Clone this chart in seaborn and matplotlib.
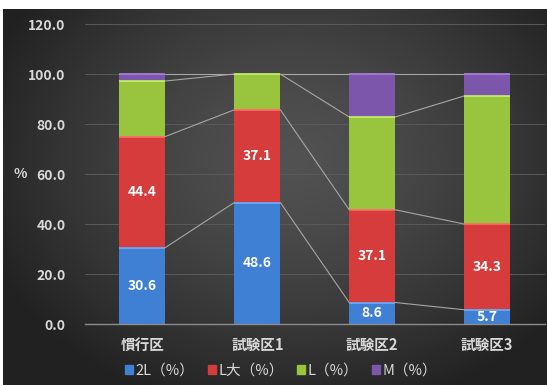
import numpy as np
import pandas as pd
import matplotlib
matplotlib.use("Agg")
import matplotlib.pyplot as plt
import matplotlib.colors as mcolors
import seaborn as sns

# Size shares of each plot (%)
plots = ["慣行区", "試験区1", "試験区2", "試験区3"]
series = ["2L（%）", "L大（%）", "L（%）", "M（%）"]
v_2L = [30.6, 48.6, 8.6, 5.7]
v_Ldai = [44.4, 37.1, 37.1, 34.3]
v_L = [22.2, 14.3, 37.1, 51.2]
v_M = [2.8, 0.0, 17.2, 8.8]
yticks = [0, 20, 40, 60, 80, 100, 120]

colors = ["#3f80d4", "#d63c3c", "#98c43e", "#7b56aa"]
label_series = [0, 1]  # segments that carry value labels

sns.set_theme(style="dark")
plt.rcParams["font.family"] = ["Noto Sans CJK JP", "DejaVu Sans"]

values = np.array([v_2L, v_Ldai, v_L, v_M])
cum = np.cumsum(values, axis=0)

fig = plt.figure(figsize=(5.47, 3.85), dpi=100, facecolor="white")

# radial dark background
bg = fig.add_axes([3 / 547, 0, 544 / 547, 376 / 385])
bg.set_axis_off()
h, w = 376, 544
yy, xx = np.mgrid[0:h, 0:w]
cx, cy = 290, 150
d = np.sqrt(((xx - cx) / 330.0) ** 2 + ((yy - cy) / 260.0) ** 2)
d = np.clip(d, 0, 1)
lev = 0.32 - 0.19 * d ** 1.4
img = np.dstack([lev, lev, lev])
bg.imshow(img, aspect="auto", extent=[0, 1, 0, 1], interpolation="bilinear")
bg.set_xlim(0, 1)
bg.set_ylim(0, 1)

ax = fig.add_axes([85 / 547, 61 / 385, 459.5 / 547, 300 / 385])
ax.set_facecolor("none")

# stacked bars: draw cumulative totals from the top layer down
for k in range(len(series) - 1, -1, -1):
    df = pd.DataFrame({"区": plots, "val": cum[k]})
    sns.barplot(data=df, x="区", y="val", color=colors[k], width=0.4,
                saturation=1, ax=ax, zorder=3, linewidth=0)

# lighter top edge on each segment
bw = 0.4
for k in range(len(series)):
    light = mcolors.to_rgb(colors[k])
    light = tuple(min(1, c + 0.18) for c in light)
    for i in range(len(plots)):
        if values[k, i] > 0:
            ax.plot([i - bw / 2, i + bw / 2], [cum[k, i], cum[k, i]],
                    color=light, lw=1.2, zorder=4, solid_capstyle="butt")

# series lines between neighbouring bars
for k in range(len(series)):
    for i in range(len(plots) - 1):
        ax.plot([i + bw / 2, i + 1 - bw / 2], [cum[k, i], cum[k, i + 1]],
                color="#a6a6a6", lw=0.8, zorder=2)

# value labels
for k in label_series:
    for i in range(len(plots)):
        ymid = cum[k, i] - values[k, i] / 2
        ax.text(i, ymid, f"{values[k, i]:.1f}", ha="center", va="center",
                color="white", fontsize=10, fontweight="bold", zorder=5)

ax.set_ylim(0, 120)
ax.set_xlim(-0.5, len(plots) - 0.5)
ax.set_yticks(yticks)
ax.set_yticklabels([f"{t:.1f}" for t in yticks], color="#d9d9d9",
                   fontsize=10, fontweight="bold")
ax.set_xticks(range(len(plots)))
ax.set_xticklabels(plots, color="#d9d9d9", fontsize=10.5, fontweight="bold")
ax.tick_params(axis="y", length=0, pad=14)
ax.tick_params(axis="x", length=0, pad=9)
ax.set_xlabel("")
ax.set_ylabel("")
ax.grid(axis="y", color="#5a5a5a", lw=0.7, zorder=0)
ax.grid(axis="x", visible=False)
for s in ["top", "right", "left"]:
    ax.spines[s].set_visible(False)
ax.spines["bottom"].set_color("#8c8c8c")
ax.spines["bottom"].set_linewidth(1.0)
ax.spines["bottom"].set_zorder(6)

fig.text(20 / 547, 1 - 174 / 385, "%", color="#d9d9d9", fontsize=10,
         fontweight="bold", ha="center", va="center")

handles = [plt.Rectangle((0, 0), 1, 1, color=c) for c in colors]
leg = fig.legend(handles, series, loc="center", bbox_to_anchor=(281 / 547, 1 - 371 / 385),
                 ncol=4, frameon=False, fontsize=10.5, handlelength=0.55,
                 handleheight=0.55, handletextpad=0.2, columnspacing=0.9)
for t in leg.get_texts():
    t.set_color("#d9d9d9")

fig.savefig("out.png", dpi=100, facecolor="white")
